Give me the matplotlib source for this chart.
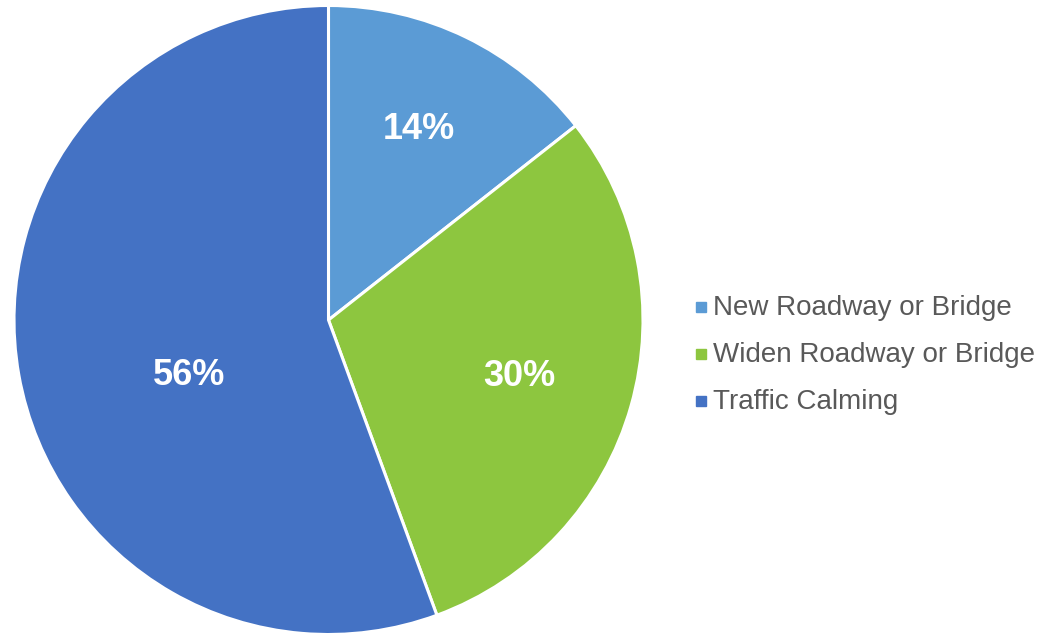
import numpy as np
from matplotlib import pyplot as plt

labels = ["New Roadway or Bridge", "Widen Roadway or Bridge", "Traffic Calming"]
values = [14.4, 30.0, 55.6]
pct_labels = ["14%", "30%", "56%"]
colors = ["#5B9BD5", "#8DC63F", "#4472C4"]


def main():
    plt.rcParams['font.family'] = ['Liberation Sans', 'DejaVu Sans']
    fig = plt.figure(figsize=(10.43, 6.34), dpi=100)
    ax = fig.add_axes([0, 0, 1, 1])

    cx, cy, r = 328.5, 634 - 320, 314.5
    wedges, _ = ax.pie(values, colors=colors, startangle=90, counterclock=False,
                       center=(cx, cy), radius=r,
                       wedgeprops=dict(edgecolor='white', linewidth=2.2))

    # label placement: fraction of radius and angle nudge (deg) per slice
    dists = [0.68, 0.63, 0.474]
    nudges = [1.0, 0.4, 10.5]
    for w, txt, d, n in zip(wedges, pct_labels, dists, nudges):
        ang = np.deg2rad((w.theta1 + w.theta2) / 2 + n)
        ax.text(cx + d * r * np.cos(ang), cy + d * r * np.sin(ang) - 3.5, txt,
                color='white', fontsize=26, fontweight='bold',
                ha='center', va='center')

    # legend drawn by hand
    for i, (lab, col) in enumerate(zip(labels, colors)):
        y = 634 - (307 + 47 * i)
        ax.plot([700.5], [y], marker='s', markersize=6.8, color=col, ls='none')
        ax.text(713, y - 1, lab, fontsize=20, color='#595959', ha='left', va='center')

    ax.set_xlim(0, 1043)
    ax.set_ylim(0, 634)
    ax.set_aspect('auto')
    ax.axis('off')
    plt.savefig("out.png", format="PNG")


if __name__ == "__main__":
    main()
